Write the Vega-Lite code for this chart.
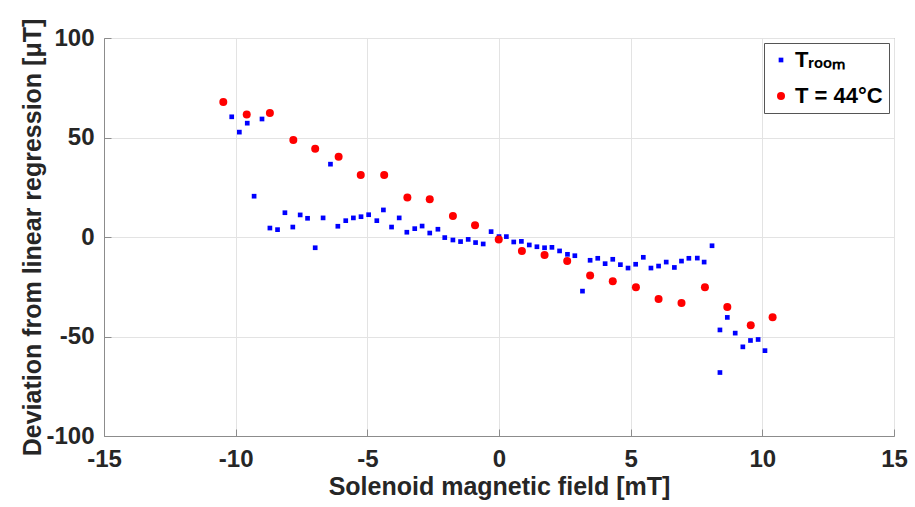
{
  "$schema": "https://vega.github.io/schema/vega-lite/v6.json",
  "autosize": {"type": "none"},
  "width": 790,
  "height": 398,
  "padding": {"left": 104, "top": 38, "right": 21, "bottom": 71},
  "background": "white",
  "config": {
    "font": "Liberation Sans",
    "view": {"stroke": "#8c8c8c", "strokeWidth": 1}
  },
  "datasets": {
    "pts": [
      {"series": "Tᵣₒₒₘ", "x": -10.15, "y": 60.4},
      {"series": "Tᵣₒₒₘ", "x": -9.86, "y": 52.7},
      {"series": "Tᵣₒₒₘ", "x": -9.56, "y": 57.2},
      {"series": "Tᵣₒₒₘ", "x": -9.30, "y": 20.5},
      {"series": "Tᵣₒₒₘ", "x": -9.00, "y": 59.3},
      {"series": "Tᵣₒₒₘ", "x": -8.70, "y": 4.5},
      {"series": "Tᵣₒₒₘ", "x": -8.41, "y": 3.7},
      {"series": "Tᵣₒₒₘ", "x": -8.13, "y": 12.2},
      {"series": "Tᵣₒₒₘ", "x": -7.83, "y": 5.0},
      {"series": "Tᵣₒₒₘ", "x": -7.55, "y": 11.1},
      {"series": "Tᵣₒₒₘ", "x": -7.27, "y": 9.4},
      {"series": "Tᵣₒₒₘ", "x": -6.98, "y": -5.4},
      {"series": "Tᵣₒₒₘ", "x": -6.68, "y": 9.6},
      {"series": "Tᵣₒₒₘ", "x": -6.40, "y": 36.6},
      {"series": "Tᵣₒₒₘ", "x": -6.12, "y": 5.4},
      {"series": "Tᵣₒₒₘ", "x": -5.82, "y": 8.2},
      {"series": "Tᵣₒₒₘ", "x": -5.53, "y": 9.6},
      {"series": "Tᵣₒₒₘ", "x": -5.24, "y": 10.2},
      {"series": "Tᵣₒₒₘ", "x": -4.95, "y": 11.2},
      {"series": "Tᵣₒₒₘ", "x": -4.64, "y": 8.2},
      {"series": "Tᵣₒₒₘ", "x": -4.39, "y": 13.6},
      {"series": "Tᵣₒₒₘ", "x": -4.08, "y": 5.0},
      {"series": "Tᵣₒₒₘ", "x": -3.79, "y": 9.6},
      {"series": "Tᵣₒₒₘ", "x": -3.50, "y": 2.4},
      {"series": "Tᵣₒₒₘ", "x": -3.20, "y": 4.2},
      {"series": "Tᵣₒₒₘ", "x": -2.92, "y": 5.5},
      {"series": "Tᵣₒₒₘ", "x": -2.63, "y": 2.0},
      {"series": "Tᵣₒₒₘ", "x": -2.32, "y": 3.9},
      {"series": "Tᵣₒₒₘ", "x": -2.06, "y": -0.3},
      {"series": "Tᵣₒₒₘ", "x": -1.75, "y": -1.5},
      {"series": "Tᵣₒₒₘ", "x": -1.46, "y": -2.3},
      {"series": "Tᵣₒₒₘ", "x": -1.17, "y": -1.2},
      {"series": "Tᵣₒₒₘ", "x": -0.89, "y": -2.8},
      {"series": "Tᵣₒₒₘ", "x": -0.60, "y": -3.5},
      {"series": "Tᵣₒₒₘ", "x": -0.30, "y": 2.7},
      {"series": "Tᵣₒₒₘ", "x": 0.00, "y": 0.2},
      {"series": "Tᵣₒₒₘ", "x": 0.28, "y": 0.2},
      {"series": "Tᵣₒₒₘ", "x": 0.56, "y": -2.5},
      {"series": "Tᵣₒₒₘ", "x": 0.85, "y": -2.2},
      {"series": "Tᵣₒₒₘ", "x": 1.15, "y": -4.0},
      {"series": "Tᵣₒₒₘ", "x": 1.44, "y": -4.9},
      {"series": "Tᵣₒₒₘ", "x": 1.73, "y": -5.4},
      {"series": "Tᵣₒₒₘ", "x": 2.01, "y": -5.2},
      {"series": "Tᵣₒₒₘ", "x": 2.30, "y": -7.0},
      {"series": "Tᵣₒₒₘ", "x": 2.60, "y": -8.7},
      {"series": "Tᵣₒₒₘ", "x": 2.88, "y": -9.4},
      {"series": "Tᵣₒₒₘ", "x": 3.17, "y": -27.2},
      {"series": "Tᵣₒₒₘ", "x": 3.46, "y": -11.7},
      {"series": "Tᵣₒₒₘ", "x": 3.75, "y": -10.7},
      {"series": "Tᵣₒₒₘ", "x": 4.03, "y": -13.4},
      {"series": "Tᵣₒₒₘ", "x": 4.32, "y": -11.2},
      {"series": "Tᵣₒₒₘ", "x": 4.61, "y": -13.9},
      {"series": "Tᵣₒₒₘ", "x": 4.90, "y": -15.6},
      {"series": "Tᵣₒₒₘ", "x": 5.19, "y": -13.7},
      {"series": "Tᵣₒₒₘ", "x": 5.48, "y": -10.2},
      {"series": "Tᵣₒₒₘ", "x": 5.77, "y": -15.6},
      {"series": "Tᵣₒₒₘ", "x": 6.06, "y": -14.6},
      {"series": "Tᵣₒₒₘ", "x": 6.35, "y": -12.6},
      {"series": "Tᵣₒₒₘ", "x": 6.66, "y": -15.3},
      {"series": "Tᵣₒₒₘ", "x": 6.93, "y": -12.1},
      {"series": "Tᵣₒₒₘ", "x": 7.21, "y": -10.7},
      {"series": "Tᵣₒₒₘ", "x": 7.53, "y": -10.6},
      {"series": "Tᵣₒₒₘ", "x": 7.79, "y": -12.6},
      {"series": "Tᵣₒₒₘ", "x": 8.09, "y": -4.4},
      {"series": "Tᵣₒₒₘ", "x": 8.39, "y": -46.7},
      {"series": "Tᵣₒₒₘ", "x": 8.39, "y": -68.1},
      {"series": "Tᵣₒₒₘ", "x": 8.67, "y": -40.4},
      {"series": "Tᵣₒₒₘ", "x": 8.97, "y": -48.3},
      {"series": "Tᵣₒₒₘ", "x": 9.26, "y": -55.2},
      {"series": "Tᵣₒₒₘ", "x": 9.55, "y": -52.0},
      {"series": "Tᵣₒₒₘ", "x": 9.84, "y": -51.5},
      {"series": "Tᵣₒₒₘ", "x": 10.10, "y": -57.1},
      {"series": "T = 44°C", "x": -10.47, "y": 67.8},
      {"series": "T = 44°C", "x": -9.58, "y": 61.6},
      {"series": "T = 44°C", "x": -8.70, "y": 62.3},
      {"series": "T = 44°C", "x": -7.81, "y": 48.8},
      {"series": "T = 44°C", "x": -6.98, "y": 44.3},
      {"series": "T = 44°C", "x": -6.09, "y": 40.3},
      {"series": "T = 44°C", "x": -5.25, "y": 31.1},
      {"series": "T = 44°C", "x": -4.36, "y": 31.1},
      {"series": "T = 44°C", "x": -3.48, "y": 19.8},
      {"series": "T = 44°C", "x": -2.63, "y": 19.0},
      {"series": "T = 44°C", "x": -1.75, "y": 10.6},
      {"series": "T = 44°C", "x": -0.91, "y": 5.9},
      {"series": "T = 44°C", "x": -0.01, "y": -1.2},
      {"series": "T = 44°C", "x": 0.87, "y": -7.0},
      {"series": "T = 44°C", "x": 1.73, "y": -9.1},
      {"series": "T = 44°C", "x": 2.59, "y": -12.1},
      {"series": "T = 44°C", "x": 3.46, "y": -19.3},
      {"series": "T = 44°C", "x": 4.32, "y": -22.2},
      {"series": "T = 44°C", "x": 5.20, "y": -25.3},
      {"series": "T = 44°C", "x": 6.06, "y": -31.2},
      {"series": "T = 44°C", "x": 6.93, "y": -33.2},
      {"series": "T = 44°C", "x": 7.82, "y": -25.3},
      {"series": "T = 44°C", "x": 8.67, "y": -35.2},
      {"series": "T = 44°C", "x": 9.56, "y": -44.3},
      {"series": "T = 44°C", "x": 10.39, "y": -40.3}
    ]
  },
  "data": {"name": "pts"},
  "mark": {"type": "point", "filled": true, "opacity": 1},
  "encoding": {
    "x": {
      "field": "x", "type": "quantitative",
      "scale": {"domain": [-15, 15], "nice": false, "zero": false},
      "axis": {
        "title": "Solenoid magnetic field [mT]",
        "values": [-15, -10, -5, 0, 5, 10, 15],
        "labelExpr": "'' + datum.value",
        "grid": true, "gridColor": "#e3e3e3",
        "domainColor": "#8c8c8c", "tickColor": "#8c8c8c",
        "tickSize": -7,
        "labelFont": "Liberation Sans", "labelFontWeight": "bold", "labelFontSize": 24, "labelColor": "#262626",
        "labelPadding": 18, "labelFlush": false, "labelOverlap": false,
        "titleFont": "Liberation Sans", "titleFontWeight": "bold", "titleFontSize": 25, "titleColor": "#262626",
        "titlePadding": 3
      }
    },
    "y": {
      "field": "y", "type": "quantitative",
      "scale": {"domain": [-100, 100], "nice": false, "zero": false},
      "axis": {
        "title": "Deviation from linear regression [μT]",
        "values": [-100, -50, 0, 50, 100],
        "labelExpr": "'' + datum.value",
        "grid": true, "gridColor": "#e3e3e3",
        "domainColor": "#8c8c8c", "tickColor": "#8c8c8c",
        "tickSize": -7,
        "labelFont": "Liberation Sans", "labelFontWeight": "bold", "labelFontSize": 24, "labelColor": "#262626",
        "labelPadding": 17, "labelFlush": false, "labelOverlap": false,
        "titleFont": "Liberation Sans", "titleFontWeight": "bold", "titleFontSize": 25, "titleColor": "#262626",
        "titlePadding": 0
      }
    },
    "color": {
      "field": "series", "type": "nominal",
      "sort": ["Tᵣₒₒₘ", "T = 44°C"],
      "scale": {"domain": ["Tᵣₒₒₘ", "T = 44°C"], "range": ["#0000ff", "#ff0000"]},
      "legend": {
        "title": null,
        "orient": "top-right",
        "offset": 5,
        "fillColor": "white",
        "strokeColor": "#555555",
        "padding": 6,
        "labelFont": "Liberation Sans", "labelFontWeight": "bold", "labelFontSize": 22, "labelColor": "#000000",
        "rowPadding": 14,
        "labelOffset": 3,
        "labelLimit": 200
      }
    },
    "shape": {
      "field": "series", "type": "nominal",
      "scale": {"domain": ["Tᵣₒₒₘ", "T = 44°C"], "range": ["square", "circle"]},
      "legend": null
    },
    "size": {
      "field": "series", "type": "nominal",
      "scale": {"domain": ["Tᵣₒₒₘ", "T = 44°C"], "range": [22, 64]},
      "legend": null
    },
    "order": {"field": "series", "type": "nominal", "sort": "descending"}
  }
}
